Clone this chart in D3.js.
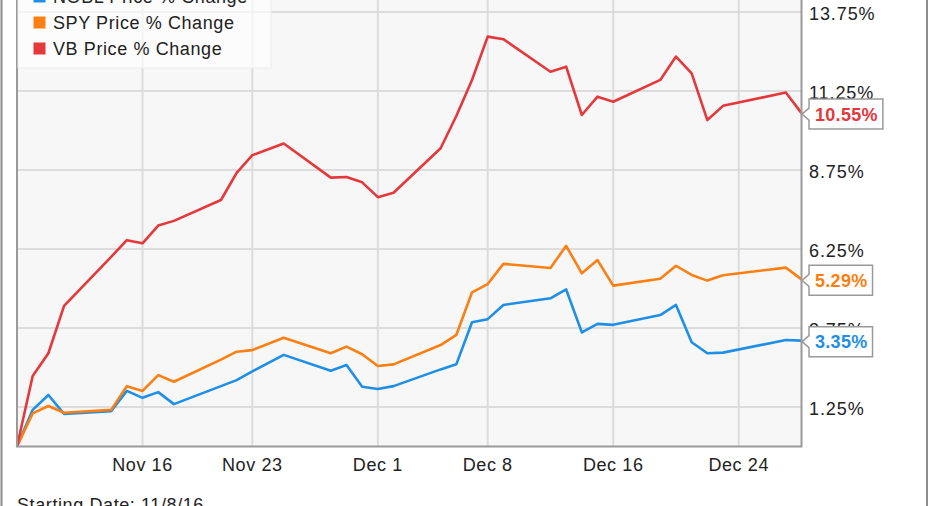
<!DOCTYPE html>
<html><head><meta charset="utf-8">
<script src="https://cdn.jsdelivr.net/npm/d3@7"></script>
<style>
html,body{margin:0;padding:0;background:#fff;overflow:hidden}
svg{display:block;font-family:"Liberation Sans",Arial,sans-serif}
</style></head>
<body><svg id="c" width="931" height="506"></svg>
<script>
const dates = ["2016-11-08","2016-11-09","2016-11-10","2016-11-11","2016-11-14","2016-11-15","2016-11-16","2016-11-17","2016-11-18","2016-11-21","2016-11-22","2016-11-23","2016-11-25","2016-11-28","2016-11-29","2016-11-30","2016-12-01","2016-12-02","2016-12-05","2016-12-06","2016-12-07","2016-12-08","2016-12-09","2016-12-12","2016-12-13","2016-12-14","2016-12-15","2016-12-16","2016-12-19","2016-12-20","2016-12-21","2016-12-22","2016-12-23","2016-12-27","2016-12-28"];
const nobl = [0,1.16,1.63,1.03,1.12,1.76,1.54,1.72,1.34,1.91,2.10,2.38,2.90,2.40,2.58,1.89,1.82,1.91,2.44,2.60,3.93,4.03,4.48,4.69,4.97,3.61,3.88,3.85,4.16,4.48,3.30,2.95,2.97,3.37,3.35];
const spy = [0,1.05,1.28,1.07,1.16,1.91,1.76,2.26,2.05,2.75,3.00,3.05,3.44,2.95,3.16,2.92,2.55,2.60,3.21,3.53,4.88,5.14,5.78,5.65,6.35,5.48,5.90,5.09,5.31,5.72,5.43,5.25,5.42,5.66,5.29];
const vb = [0,2.23,2.95,4.45,6.00,6.53,6.43,6.99,7.14,7.80,8.66,9.22,9.59,8.51,8.53,8.36,7.89,8.03,9.44,10.46,11.60,12.97,12.89,11.86,12.02,10.49,11.07,10.91,11.60,12.34,11.81,10.33,10.78,11.20,10.55];
const seriesNames = ["NOBL Price % Change","SPY Price % Change","VB Price % Change"];
const seriesColors = ["#1f8fe6","#fb7f12","#e5383c"];
const yTicks = [1.25,3.75,6.25,8.75,11.25,13.75];
const xTickDates = ["2016-11-16","2016-11-23","2016-12-01","2016-12-08","2016-12-16","2016-12-24"];
const xTickLabels = ["Nov 16","Nov 23","Dec 1","Dec 8","Dec 16","Dec 24"];
const startLabel = "Starting Date: 11/8/16";

const parse = d3.utcParse("%Y-%m-%d");
const svg = d3.select("#c");
const L = 17, R = 801.5, B = 446.5, T = -12;
const x = d3.scaleUtc().domain([parse("2016-11-08"), parse("2016-12-28")]).range([L, R]);
const y = d3.scaleLinear().domain([0, 1.25]).range([B, B - 39.5]);
const font = 18, ls = "0.6px";

// outer frame
svg.append("line").attr("x1",1.5).attr("x2",1.5).attr("y1",0).attr("y2",506).attr("stroke","#8c8c8c").attr("stroke-width",2);
svg.append("line").attr("x1",927).attr("x2",927).attr("y1",0).attr("y2",506).attr("stroke","#8c8c8c").attr("stroke-width",2);

// plot background
svg.append("rect").attr("x",L).attr("y",T).attr("width",R-L).attr("height",B-T).attr("fill","#f7f7f7");

// gridlines
svg.append("g").selectAll("line").data(yTicks).join("line")
  .attr("x1",L).attr("x2",R).attr("y1",d=>y(d)).attr("y2",d=>y(d))
  .attr("stroke","#dcdcdc").attr("stroke-width",2);
svg.append("g").selectAll("line").data(xTickDates).join("line")
  .attr("x1",d=>x(parse(d))).attr("x2",d=>x(parse(d))).attr("y1",T).attr("y2",B)
  .attr("stroke","#dcdcdc").attr("stroke-width",2);

// lines
const series = [nobl, spy, vb];
const line = d3.line().x((d,i)=>x(parse(dates[i]))).y(d=>y(d));
series.forEach((s,k)=>{
  svg.append("path").datum(s).attr("d",line).attr("fill","none")
    .attr("stroke",seriesColors[k]).attr("stroke-width",2.6).attr("stroke-linejoin","round");
});

// plot border
svg.append("path").attr("d",`M${L},${T}V${B}H${R}V${T}`).attr("fill","none").attr("stroke","#9a9a9a").attr("stroke-width",2);

// legend
const lg = svg.append("g");
lg.append("rect").attr("x",L+1).attr("y",-30).attr("width",253).attr("height",98)
  .attr("fill","#fff").attr("fill-opacity",0.65).attr("stroke","#ececec");
seriesNames.forEach((n,k)=>{
  const base = 2.5 + 26*k;
  lg.append("rect").attr("x",33.5).attr("y",base-12).attr("width",12).attr("height",12).attr("fill",seriesColors[k]);
  lg.append("text").attr("x",53).attr("y",base).attr("font-size",font).attr("letter-spacing",ls).attr("fill","#222").text(n);
});

// y labels
svg.append("g").selectAll("text").data(yTicks).join("text")
  .attr("x",809).attr("y",d=>y(d)+7.5).attr("font-size",font).attr("letter-spacing","0.9px").attr("fill","#222")
  .text(d=>d3.format(".2f")(d)+"%");

// x labels
svg.append("g").selectAll("text").data(xTickDates).join("text")
  .attr("x",d=>x(parse(d))).attr("y",470.5).attr("text-anchor","middle").attr("font-size",font).attr("letter-spacing",ls).attr("fill","#222")
  .text((d,i)=>xTickLabels[i]);

svg.append("text").attr("x",17).attr("y",511).attr("font-size",font).attr("letter-spacing",ls).attr("fill","#222").text(startLabel);

// end labels
series.forEach((s,k)=>{
  const v = s[s.length-1];
  const yy = y(v) + 1;
  const g = svg.append("g");
  const t = g.append("text").attr("x",815).attr("y",yy+6.5).attr("font-size",font).attr("font-weight","bold")
    .attr("letter-spacing","0.3px").attr("fill",seriesColors[k]).text(d3.format(".2f")(v)+"%");
  const w = t.node().getComputedTextLength() + 11;
  const x0 = 809, x1 = x0 + w, h = 15;
  g.insert("path","text").attr("d",`M${R+0.5},${yy}L${x0},${yy-6}V${yy-h}H${x1}V${yy+h}H${x0}V${yy+6}Z`)
    .attr("fill","#fff").attr("stroke","#9a9a9a").attr("stroke-width",1.5);
});
</script></body></html>
